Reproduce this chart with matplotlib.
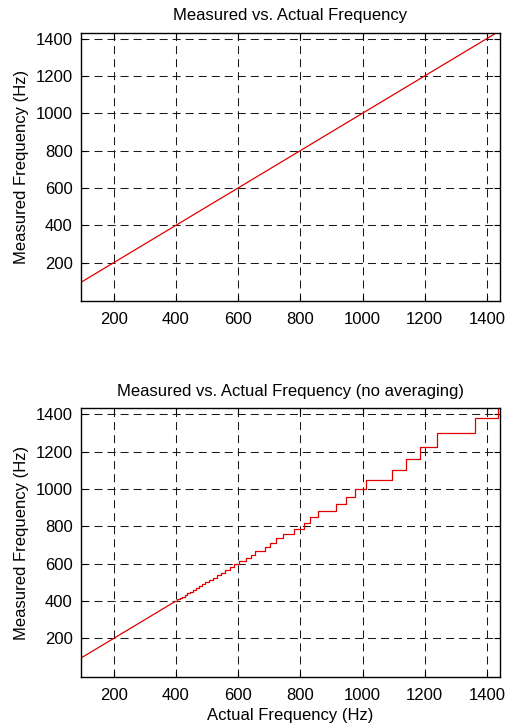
import numpy as np
import matplotlib
matplotlib.use("Agg")
import matplotlib.pyplot as plt

plt.rcParams['font.family'] = ['Liberation Sans', 'DejaVu Sans']

# top plot: averaged measurement, follows actual frequency
actual_avg = [95, 1442]
measured_avg = [95, 1442]

# bottom plot: no averaging -> staircase
# smooth-looking part at low frequencies
actual_low = [95, 397]
measured_low = [95, 397]

# step part: frequency where each level starts, and the level
step_start = [397, 404, 412, 420, 428, 436, 445, 454, 464, 474, 485, 495,
              507, 519, 531, 544, 558, 573, 588, 604, 626, 642, 655, 685,
              703, 723, 743, 781, 811, 832, 856, 915, 947, 977, 1011, 1096,
              1140, 1186, 1241, 1362, 1434, 1442]
step_level = [400.9, 408.3, 416.0, 424.0, 432.4, 441.0, 450.0, 459.4, 469.1,
              479.3, 490.0, 501.1, 512.8, 525.0, 537.8, 551.3, 565.4, 580.3,
              596.0, 612.5, 630.0, 648.5, 668.2, 689.0, 711.3, 735.0, 760.3,
              787.5, 816.7, 848.0, 882.0, 918.8, 958.7, 1002.3, 1050.0, 1102.5,
              1160.5, 1225.0, 1297.1, 1378.1, 1470.0, 1470.0]

ticks = [200, 400, 600, 800, 1000, 1200, 1400]
xlim = (95, 1442)
ylim = (-5, 1432)

fs = 12

fig = plt.figure(figsize=(5.07, 7.27), dpi=100)
ax1 = fig.add_axes([0.1598, 0.586, 0.8264, 0.3692])
ax2 = fig.add_axes([0.1598, 0.0692, 0.8264, 0.3692])

red = '#e00000'
ax1.plot(actual_avg, measured_avg, color=red, lw=0.9)
ax2.plot(actual_low, measured_low, color=red, lw=0.9)
ax2.plot(step_start, step_level, color=red, lw=0.9, drawstyle='steps-post')

for ax in (ax1, ax2):
    ax.set_xlim(xlim)
    ax.set_ylim(ylim)
    ax.set_xticks(ticks)
    ax.set_yticks(ticks)
    ax.grid(True, color='#1a1a1a', linestyle=(0, (7.7, 4.8)), linewidth=0.75)
    ax.tick_params(direction='in', length=4, width=0.8, top=True, right=True,
                   labelsize=fs, pad=6)
    ax.tick_params(axis='x', pad=8)
    for s in ax.spines.values():
        s.set_linewidth(1.0)
    ax.set_ylabel('Measured Frequency (Hz)', fontsize=fs, labelpad=5)

ax1.set_title('Measured vs. Actual Frequency', fontsize=fs, pad=9)
ax2.set_title('Measured vs. Actual Frequency (no averaging)', fontsize=fs, pad=9)
ax2.set_xlabel('Actual Frequency (Hz)', fontsize=fs, labelpad=4)

fig.savefig('out.png', dpi=100)
